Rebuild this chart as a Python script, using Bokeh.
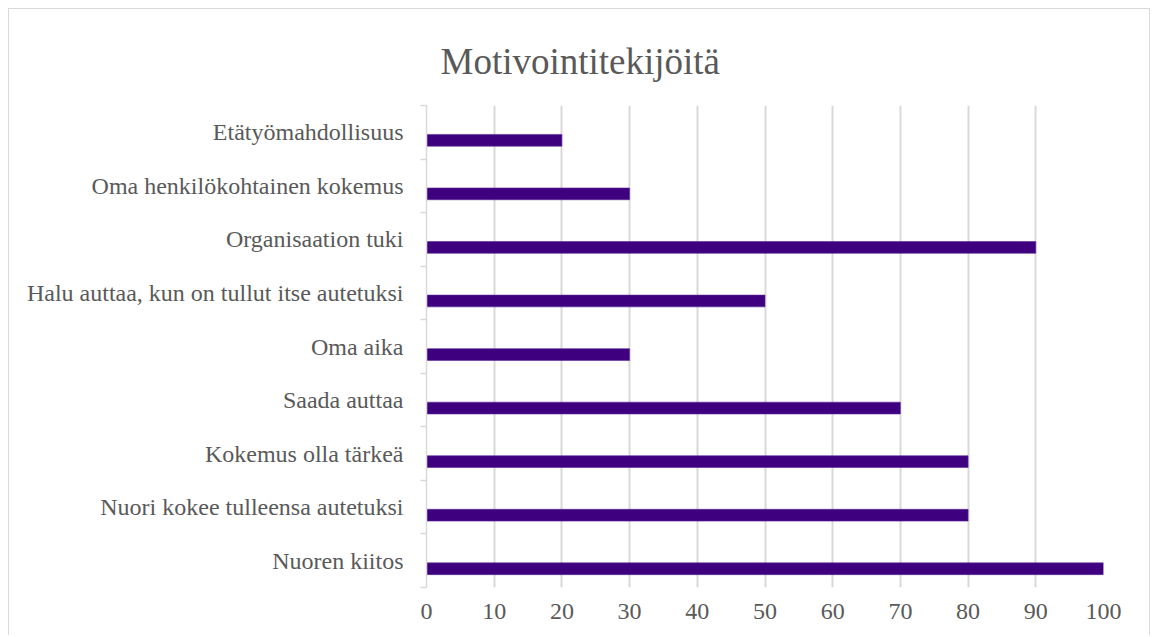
from bokeh.plotting import figure
from bokeh.models import Range1d, FixedTicker, ColumnDataSource
from bokeh.embed import file_html
from bokeh.resources import INLINE

categories = [
    "Nuoren kiitos",
    "Nuori kokee tulleensa autetuksi",
    "Kokemus olla tärkeä",
    "Saada auttaa",
    "Oma aika",
    "Halu auttaa, kun on tullut itse autetuksi",
    "Organisaation tuki",
    "Oma henkilökohtainen kokemus",
    "Etätyömahdollisuus",
]
values = [100, 80, 80, 70, 30, 50, 90, 30, 20]
x_ticks = [0, 10, 20, 30, 40, 50, 60, 70, 80, 90, 100]

FONT = "Liberation Serif"
TXT = "#595959"
GRID = "#D9D9D9"

pos = list(range(len(categories)))
src = ColumnDataSource(dict(y=[p - 0.15 for p in pos], right=values))

p = figure(width=1142, height=627, output_backend="svg", toolbar_location=None,
           x_range=Range1d(0, 100), y_range=Range1d(-0.5, len(categories) - 0.5),
           min_border_left=417, min_border_right=48, min_border_top=96, min_border_bottom=49,
           title="Motivointitekijöitä")
p.styles = {"border-top": "1px solid #D9D9D9", "border-left": "1px solid #D9D9D9",
            "border-right": "1px solid #D9D9D9",
            "margin-left": "8px", "margin-top": "8px"}

p.hbar(y="y", left=0, right="right", height=0.22, source=src,
       fill_color="#3F007F", line_color="#5A2A96", line_width=0.6)

p.title.text_font = FONT
p.title.text_font_size = "37px"
p.title.text_font_style = "normal"
p.title.text_color = TXT
p.title.align = "left"
p.title.offset = 14
p.title.standoff = 47

p.outline_line_color = None
p.ygrid.grid_line_color = None
p.xgrid.grid_line_color = GRID
p.xgrid.grid_line_width = 2
p.xaxis.ticker = FixedTicker(ticks=x_ticks)
p.xaxis.axis_line_color = None
p.xaxis.major_tick_line_color = None
p.xaxis.minor_tick_line_color = None
p.xaxis.major_label_text_font = FONT
p.xaxis.major_label_text_font_size = "24px"
p.xaxis.major_label_text_color = TXT
p.xaxis.major_label_standoff = 10

p.yaxis.ticker = FixedTicker(ticks=pos, minor_ticks=[i - 0.5 for i in range(len(categories) + 1)])
p.yaxis.major_label_overrides = {i: c for i, c in enumerate(categories)}
p.yaxis.axis_line_color = GRID
p.yaxis.axis_line_width = 1.5
p.yaxis.major_tick_line_color = None
p.yaxis.minor_tick_line_color = GRID
p.yaxis.minor_tick_line_width = 1.5
p.yaxis.minor_tick_out = 6
p.yaxis.minor_tick_in = 0
p.yaxis.major_label_text_font = FONT
p.yaxis.major_label_text_font_size = "24px"
p.yaxis.major_label_text_color = TXT
p.yaxis.major_label_standoff = 17

open("out.html", "w").write(file_html(p, INLINE))
